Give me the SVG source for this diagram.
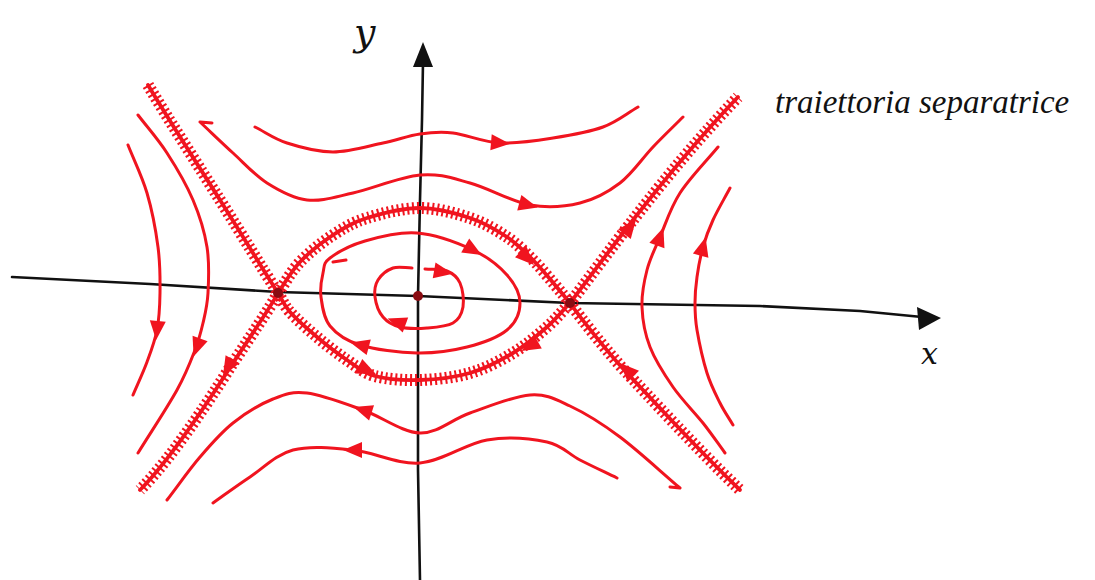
<svg xmlns="http://www.w3.org/2000/svg" xmlns:xlink="http://www.w3.org/1999/xlink" width="1095" height="580" viewBox="0 0 1095 580">
<style>
.ax{fill:none;stroke:#111;stroke-width:2.6;stroke-linecap:round;stroke-linejoin:round}
.axh{fill:#111}
.orb{fill:none;stroke:#f0141f;stroke-width:3;stroke-linecap:round;stroke-linejoin:round}
.sep{fill:none;stroke:#f0141f;stroke-width:3.8;stroke-linecap:round}
.hat{fill:none;stroke:#f0141f;stroke-width:12;stroke-dasharray:2 3}
.ah{fill:#f0141f}
.eq{fill:#8a0c12}
.lbl{font-family:"DejaVu Serif","Liberation Serif",serif;font-style:italic;fill:#111}
.cap{font-family:"Liberation Serif","DejaVu Serif",serif;font-style:italic;fill:#111}
</style>
<defs>
<path id="ah" d="M10,0 L-9,-8 L-9,8 Z"/>
<path id="s1" d="M148,85 C170,122 198,165 220,200 S262,268 278,293"/>
<path id="s2" d="M278,293 C272,305 248,340 233,363 S175,455 140,490"/>
<path id="s3" d="M570,303 C580,290 615,243 633,220 S690,147 738,97"/>
<path id="s4" d="M570,303 C582,320 610,355 627,373 S700,452 740,490"/>
<path id="su" d="M278,293 C285.3,282.7 290.8,271.7 300,262 S321.8,242.3 333,235 S352.5,222.5 367,218 S402.8,208 420,208 S455.5,213.2 470,218 S496.5,230 507,237 S525,252 533,260 S548.8,277.8 555,285 S565,297 570,303"/>
<path id="sl" d="M278,293 C282,299.3 283.5,304.7 290,312 S307.5,329 317,337 S337.3,353.5 347,360 S362.8,372.7 375,376 S404.2,380.5 420,380 S454.5,377.5 470,373 S500.2,360.7 513,353 S537.5,335.3 547,327 S562.3,311 570,303"/>
</defs>

<g id="axes">
<path class="ax" d="M12,277 L150,284 L278,292 L418,296 L570,303 L760,306 L860,311 L922,317"/>
<polygon class="axh" points="941,318 917,307 919,330"/>
<path class="ax" d="M420,580 L418,470 L418,380 L418,296 L420,200 L422,120 L423,62"/>
<polygon class="axh" points="423,42 413,67 433,67"/>
<text class="lbl" x="354" y="45" font-size="38">y</text>
<text class="lbl" x="921" y="364" font-size="30">x</text>
</g>

<g id="separatrices">
<use xlink:href="#s1" class="hat"/><use xlink:href="#s1" class="sep"/>
<use xlink:href="#s2" class="hat"/><use xlink:href="#s2" class="sep"/>
<use xlink:href="#s3" class="hat"/><use xlink:href="#s3" class="sep"/>
<use xlink:href="#s4" class="hat"/><use xlink:href="#s4" class="sep"/>
<use xlink:href="#su" class="hat"/><use xlink:href="#su" class="sep"/>
<use xlink:href="#sl" class="hat"/><use xlink:href="#sl" class="sep"/>
</g>

<g id="orbits">
<path class="orb" d="M255,127 C265.7,132.3 274,138.8 287,143 S317,152 333,152 S368.5,146 383,143 S408.3,135.7 420,134 S439.7,131.5 453,133 S483.3,142.2 500,143 S535.8,140.7 553,138 S588.8,132.2 603,127 S626.3,113.7 638,107"/>
<path class="orb" d="M200,122 C211,132.3 221.8,142.8 233,153 S254.7,175.2 267,183 S292.7,198.3 307,200 S334.2,197.2 353,193 S400.5,176.7 420,175 S451.7,178 470,183 S511.7,201.7 530,205 S565,206.7 580,203 S607.8,192.3 620,183 S642.5,158 653,147 S673,127 683,117 M200,122 L212,123"/>
<path class="orb" d="M167,500 C178,485.7 189,469.8 200,457 S220.8,432.7 233,423 S260.7,404 273,399 S292,391.2 307,393 S344.2,403.3 363,410 S402.2,432.5 420,433 S451.7,419.3 470,413 S513.3,396.2 530,395 S555,399 570,406 S601.7,423.3 620,437 S660,471 680,488 L670,487"/>
<path class="orb" d="M213,503 C225.3,494.3 236.7,485.8 250,477 S275.8,454.5 293,450 S331.8,447.8 353,450 S397.7,464.7 420,463 S465.8,443.5 487,440 S531.5,438.7 547,442 S568.3,454 580,460 S604.7,472 617,478"/>
<path class="orb" d="M128,145 C134.3,161 142,176 147,193 S155.8,230.3 158,247 S160.2,279.2 160,293 S159.2,318.5 157,330 S151,351.2 147,362 S137.7,384 133,395"/>
<path class="orb" d="M138,115 C147.7,127.7 157.8,138.8 167,153 S186.3,184.3 193,200 S204.5,231.5 207,247 S208.7,280.3 208,293 S205.2,313.5 203,323 S199.3,338.8 195,350 S186.5,372.8 177,390 S151,432 138,453"/>
<path class="orb" d="M725,453 C717.7,443 711.7,434 703,423 S681.8,399.7 673,387 S655.2,360.3 650,347 S642.5,319.8 642,307 S644,281.7 647,270 S654.5,249.8 660,237 S670.3,208 680,193 S705.3,162.3 718,147"/>
<path class="orb" d="M733,425 C728.7,417.7 724.3,411.7 720,403 S710.8,385.2 707,373 S699,341.7 697,330 S695,311.8 695,303 S695.7,286.3 697,277 S700.3,256.5 703,247 S708.5,229.8 713,220 S724.3,198.7 730,188"/>
<path class="orb" d="M330,258 C337,252.7 350.5,245.2 365,241 S399,231.5 417,233 S458,243 473,250 S499.2,266.2 507,275 S520,293.8 520,303 S515.8,322.7 507,330 S482,343.2 467,347 S434.8,353.3 417,353 S374.5,349.5 360,345 S336.5,334 330,326 S322.2,305.8 321,297 S321.5,279.5 323,273 S323,263.3 330,258 M333,262 L346,260"/>
<path class="orb" d="M412,268 C405.7,268 398.7,266 393,268 S381,275.2 378,280 S374.2,290.8 375,297 S378.8,312 383,317 S392.7,325.2 400,327 S418.2,328.7 427,328 S447,326.5 453,323 S461.8,313.7 463,307 S462.7,289 460,283 S452.8,273.3 447,271 S432.3,269.7 425,269"/>
</g>

<g id="arrowheads" class="ah">
<use xlink:href="#ah" transform="translate(500,143) rotate(5)"/>
<use xlink:href="#ah" transform="translate(528,205) rotate(15)"/>
<use xlink:href="#ah" transform="translate(527,258) rotate(45)"/>
<use xlink:href="#ah" transform="translate(473,250) rotate(30)"/>
<use xlink:href="#ah" transform="translate(443,272) rotate(10)"/>
<use xlink:href="#ah" transform="translate(397,322) rotate(200)"/>
<use xlink:href="#ah" transform="translate(360,345) rotate(195)"/>
<use xlink:href="#ah" transform="translate(367,370) rotate(25)"/>
<use xlink:href="#ah" transform="translate(530,346) rotate(150)"/>
<use xlink:href="#ah" transform="translate(228,367) rotate(120)"/>
<use xlink:href="#ah" transform="translate(157,330) rotate(95)"/>
<use xlink:href="#ah" transform="translate(197,347) rotate(110)"/>
<use xlink:href="#ah" transform="translate(363,410) rotate(198)"/>
<use xlink:href="#ah" transform="translate(353,450) rotate(180)"/>
<use xlink:href="#ah" transform="translate(630,227) rotate(-52)"/>
<use xlink:href="#ah" transform="translate(660,237) rotate(-70)"/>
<use xlink:href="#ah" transform="translate(703,247) rotate(-75)"/>
<use xlink:href="#ah" transform="translate(627,370) rotate(225)"/>
</g>

<g id="equilibria">
<circle id="origin" class="eq" cx="418" cy="296" r="5"/>
<circle id="saddle-left" class="eq" cx="278" cy="293" r="5"/>
<circle id="saddle-right" class="eq" cx="570" cy="303" r="5"/>
</g>

<g id="label">
<text class="cap" x="775" y="113" font-size="33">traiettoria separatrice</text>
</g>
</svg>
